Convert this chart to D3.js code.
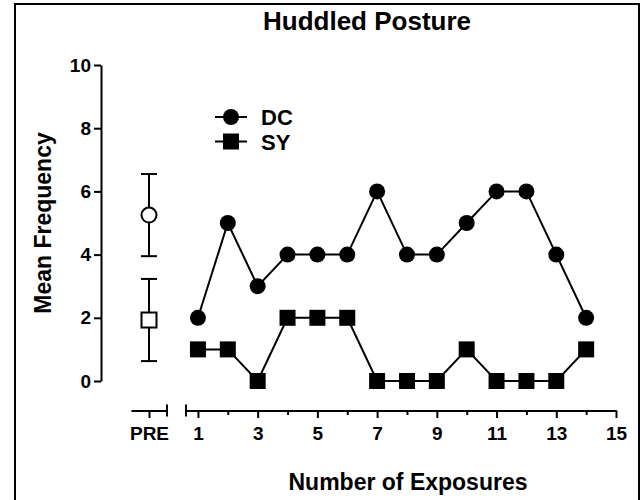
<!DOCTYPE html>
<html>
<head>
<meta charset="utf-8">
<script src="https://cdn.jsdelivr.net/npm/d3@7"></script>
<style>
  body { margin: 0; background: #fff; }
  text { font-family: 'Liberation Sans', Arial, sans-serif; font-weight: bold; fill: #000; }
</style>
</head>
<body>
<svg id="canvas"></svg>
<script>
var width = 640,
  height = 500;

// DATA
var exposures = [1, 2, 3, 4, 5, 6, 7, 8, 9, 10, 11, 12, 13, 14],
  dcValues = [2, 5, 3, 4, 4, 4, 6, 4, 4, 5, 6, 6, 4, 2],
  syValues = [1, 1, 0, 2, 2, 2, 0, 0, 0, 1, 0, 0, 0, 1],
  seriesNames = ['DC', 'SY'],
  preMeans = [5.25, 1.93],
  preErrors = [1.3, 1.3],
  preLabels = ['PRE'],
  xMajorTicks = [1, 3, 5, 7, 9, 11, 13, 15],
  xMinorTicks = [2, 4, 6, 8, 10, 12, 14],
  yTicks = [0, 2, 4, 6, 8, 10];


function draw() {
  var canvas, x, xPre, y, axisY, line, series, legend;

  canvas = d3.select('#canvas')
    .attr('width', width)
    .attr('height', height);

  x = d3.scaleLinear().domain([0.6, 15]).range([186, 616]);
  xPre = d3.scalePoint().domain(preLabels).range([131, 167]).padding(0.5);
  y = d3.scaleLinear().domain([0, 10]).range([381, 65]);
  axisY = 410.5;

  // FRAME
  canvas.append('rect')
    .attr('x', 15)
    .attr('y', 4)
    .attr('width', 624)
    .attr('height', 600)
    .style('fill', 'none')
    .style('stroke', '#000')
    .style('stroke-width', 2);

  // TITLE
  canvas.append('text')
    .attr('x', 367)
    .attr('y', 30)
    .attr('text-anchor', 'middle')
    .style('font-size', '26px')
    .text('Huddled Posture');

  // Y AXIS
  var gy = canvas.append('g')
    .attr('transform', 'translate(101,0)')
    .call(d3.axisLeft(y).tickValues(yTicks).tickSize(7).tickSizeOuter(0).tickPadding(3));

  // X AXIS - PRE segment
  var gPre = canvas.append('g')
    .attr('transform', 'translate(0,' + axisY + ')')
    .call(d3.axisBottom(xPre).tickSize(7.5).tickSizeOuter(0).tickPadding(9));

  // X AXIS - exposures
  var gx = canvas.append('g')
    .attr('transform', 'translate(0,' + axisY + ')')
    .call(d3.axisBottom(x).tickValues(xMajorTicks).tickSize(7.5).tickSizeOuter(0).tickPadding(9));

  canvas.append('g')
    .attr('transform', 'translate(0,' + axisY + ')')
    .call(d3.axisBottom(x).tickValues(xMinorTicks).tickSize(4.5).tickFormat(''))
    .select('.domain').remove();

  // axis break caps
  [xPre.range()[1], x(0.6)].forEach(function(cx) {
    canvas.append('line')
      .attr('x1', cx).attr('x2', cx)
      .attr('y1', axisY - 6).attr('y2', axisY + 6)
      .style('stroke', '#000')
      .style('stroke-width', 2);
  });

  canvas.selectAll('.domain, .tick line')
    .style('stroke', '#000')
    .style('stroke-width', 2);

  canvas.selectAll('.tick text')
    .attr('font-family', null)
    .style('font-size', '19px');

  // AXIS TITLES
  canvas.append('text')
    .attr('transform', 'translate(51,223) rotate(-90)')
    .attr('text-anchor', 'middle')
    .style('font-size', '23px')
    .text('Mean Frequency');

  canvas.append('text')
    .attr('x', 408)
    .attr('y', 490)
    .attr('text-anchor', 'middle')
    .style('font-size', '23px')
    .text('Number of Exposures');

  // PRE ERROR BARS
  var pre = canvas.selectAll('g.pre')
    .data(preMeans)
    .enter()
    .append('g')
    .attr('class', 'pre');

  pre.append('line')
    .attr('x1', xPre('PRE')).attr('x2', xPre('PRE'))
    .attr('y1', function(d, i) { return y(d + preErrors[i]); })
    .attr('y2', function(d, i) { return y(d - preErrors[i]); });

  pre.append('line')
    .attr('x1', xPre('PRE') - 8).attr('x2', xPre('PRE') + 8)
    .attr('y1', function(d, i) { return y(d + preErrors[i]); })
    .attr('y2', function(d, i) { return y(d + preErrors[i]); });

  pre.append('line')
    .attr('x1', xPre('PRE') - 8).attr('x2', xPre('PRE') + 8)
    .attr('y1', function(d, i) { return y(d - preErrors[i]); })
    .attr('y2', function(d, i) { return y(d - preErrors[i]); });

  pre.selectAll('line')
    .style('stroke', '#000')
    .style('stroke-width', 2);

  pre.filter(function(d, i) { return i === 0; })
    .append('circle')
    .attr('cx', xPre('PRE'))
    .attr('cy', function(d) { return y(d); })
    .attr('r', 7.5);

  pre.filter(function(d, i) { return i === 1; })
    .append('rect')
    .attr('x', xPre('PRE') - 7.5)
    .attr('y', function(d) { return y(d) - 7.5; })
    .attr('width', 15)
    .attr('height', 15);

  pre.selectAll('circle, rect')
    .style('fill', '#fff')
    .style('stroke', '#000')
    .style('stroke-width', 2);

  // SERIES LINES
  line = d3.line()
    .x(function(d) { return x(d[0]); })
    .y(function(d) { return y(d[1]); });

  series = [dcValues, syValues].map(function(vals) {
    return exposures.map(function(e, i) { return [e, vals[i]]; });
  });

  canvas.selectAll('path.series')
    .data(series)
    .enter()
    .append('path')
    .attr('class', 'series')
    .attr('d', line)
    .style('fill', 'none')
    .style('stroke', '#000')
    .style('stroke-width', 2);

  // MARKERS
  canvas.selectAll('circle.dc')
    .data(series[0])
    .enter()
    .append('circle')
    .attr('class', 'dc')
    .attr('cx', function(d) { return x(d[0]); })
    .attr('cy', function(d) { return y(d[1]); })
    .attr('r', 8)
    .style('fill', '#000');

  canvas.selectAll('rect.sy')
    .data(series[1])
    .enter()
    .append('rect')
    .attr('class', 'sy')
    .attr('x', function(d) { return x(d[0]) - 8; })
    .attr('y', function(d) { return y(d[1]) - 8; })
    .attr('width', 16)
    .attr('height', 16)
    .style('fill', '#000');

  // LEGEND
  legend = canvas.selectAll('g.legend')
    .data(seriesNames)
    .enter()
    .append('g')
    .attr('class', 'legend')
    .attr('transform', function(d, i) { return 'translate(231,' + (117 + i * 24.5) + ')'; });

  legend.append('line')
    .attr('x1', -16).attr('x2', 16)
    .style('stroke', '#000')
    .style('stroke-width', 2);

  legend.filter(function(d, i) { return i === 0; })
    .append('circle')
    .attr('r', 8)
    .style('fill', '#000');

  legend.filter(function(d, i) { return i === 1; })
    .append('rect')
    .attr('x', -8).attr('y', -8)
    .attr('width', 16).attr('height', 16)
    .style('fill', '#000');

  legend.append('text')
    .attr('x', 30)
    .attr('y', 8)
    .style('font-size', '22px')
    .text(function(d) { return d; });
}

window.onload = draw;
</script>
</body>
</html>
